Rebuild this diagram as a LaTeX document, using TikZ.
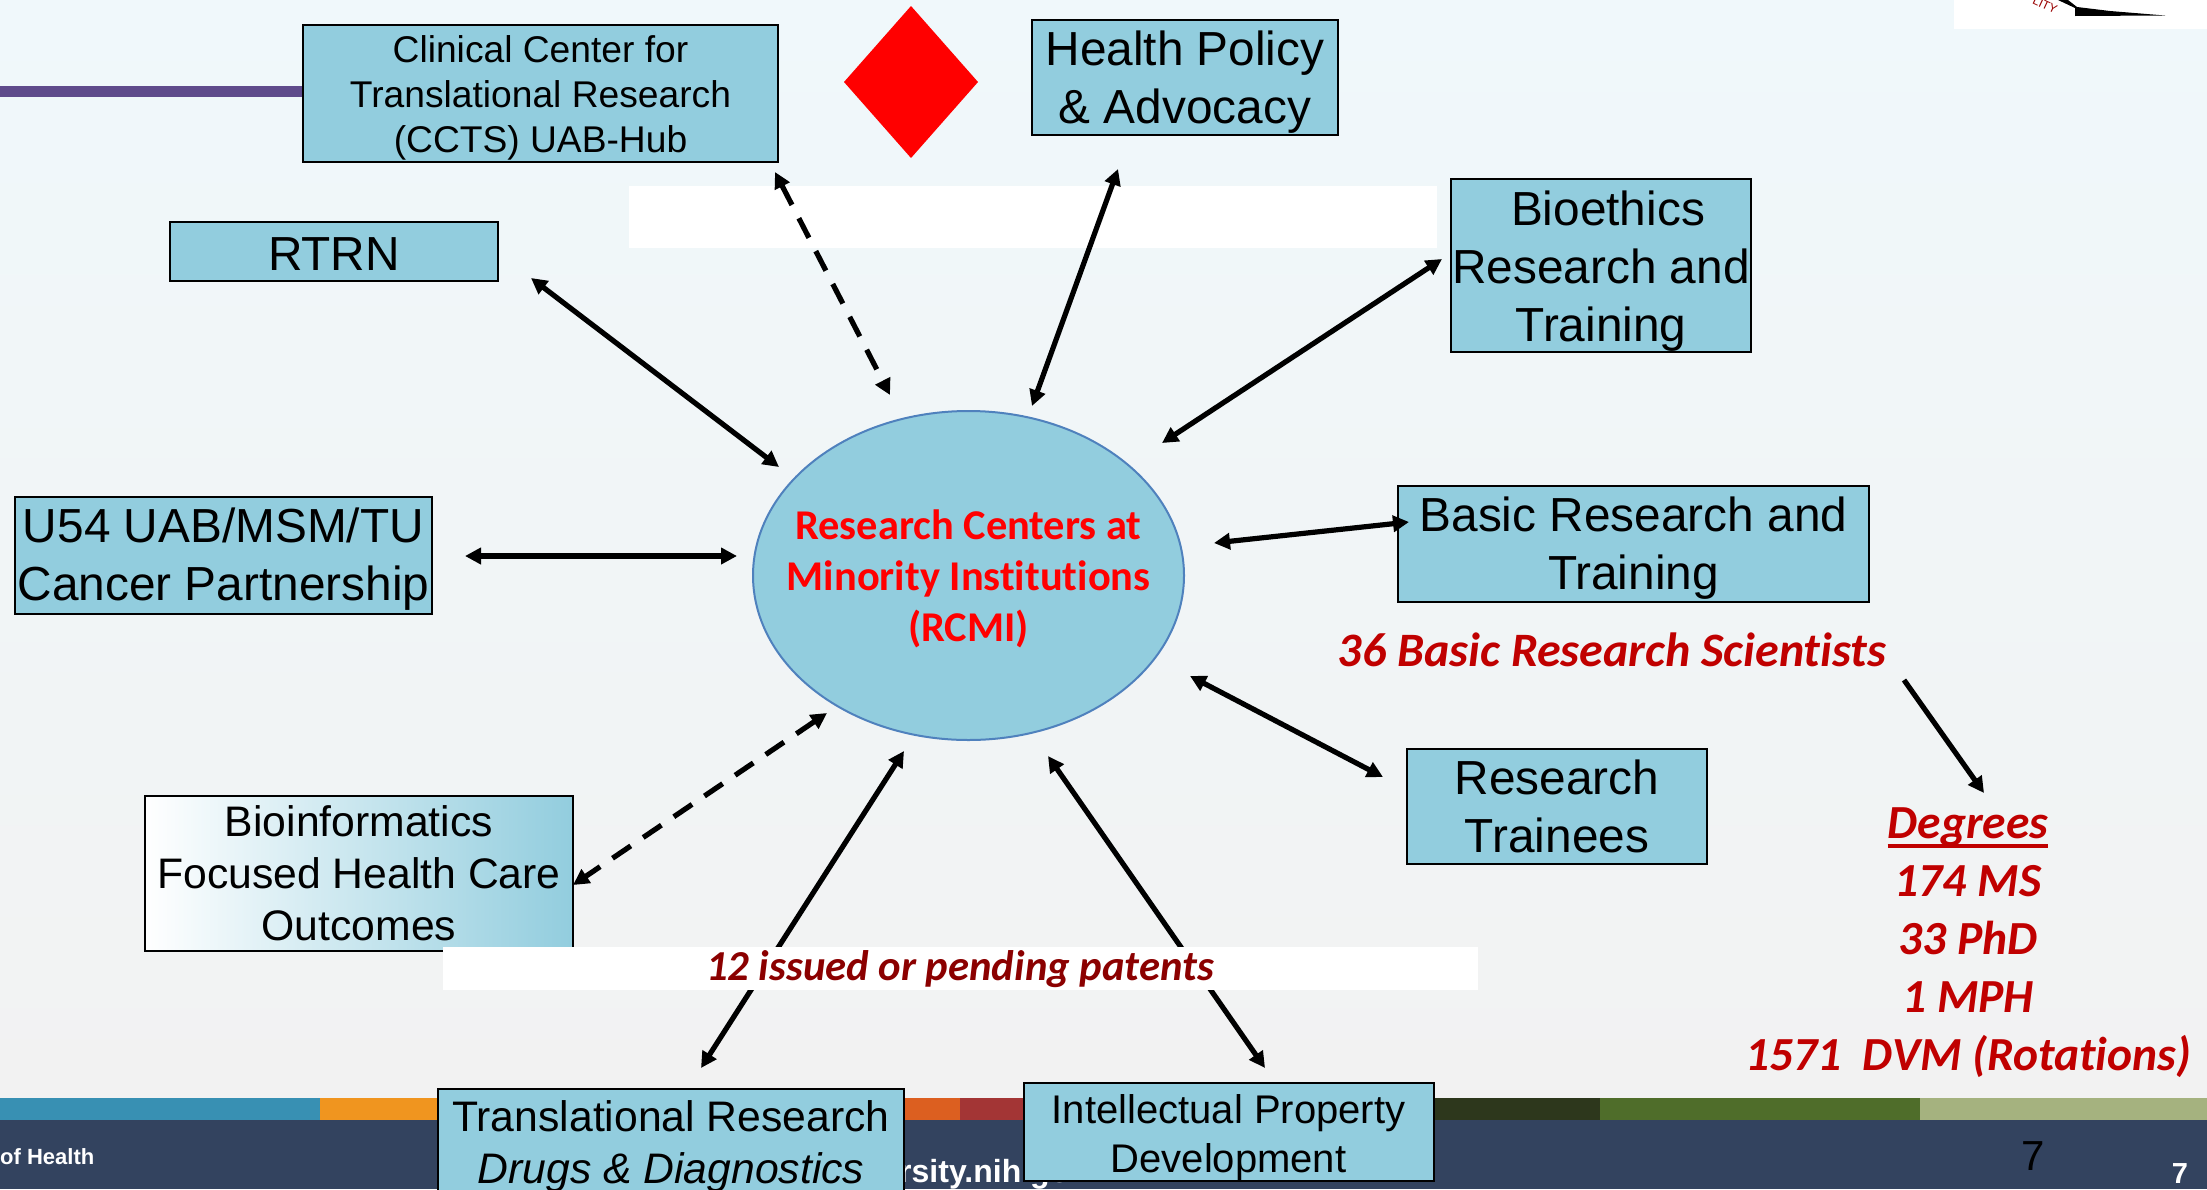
\documentclass[tikz,border=0pt]{standalone}
\usepackage{fontspec}
\setmainfont{Liberation Sans}
\newfontfamily\calfont[Ligatures=NoCommon]{Carlito}
\usetikzlibrary{arrows.meta,shapes.geometric}
\definecolor{boxblue}{HTML}{92CDDE}
\definecolor{ellline}{HTML}{4F81BD}
\definecolor{footer}{HTML}{33435F}
\definecolor{redtxt}{HTML}{C00000}
\definecolor{patent}{HTML}{8B0000}
\definecolor{bgtop}{HTML}{F0F8FB}
\definecolor{bgbot}{HTML}{F2F2F2}
\definecolor{purplebar}{HTML}{5F4B8B}
\definecolor{bandA}{HTML}{3890B3}
\definecolor{bandB}{HTML}{F0951F}
\definecolor{bandC}{HTML}{DC5F20}
\definecolor{bandD}{HTML}{A33535}
\definecolor{bandE}{HTML}{2D371C}
\definecolor{bandF}{HTML}{4F6D2A}
\definecolor{bandG}{HTML}{A5B27F}
\newcommand{\lift}[1]{\rule{0pt}{#1pt}}
\tikzset{
  box/.style={draw=black,line width=2pt,fill=boxblue,inner sep=0pt,align=center,text=black},
  arr/.style={line width=5.2pt,draw=black,{Triangle[length=16pt,width=16pt]}-{Triangle[length=16pt,width=16pt]}},
  dasharr/.style={arr,dash pattern=on 22pt off 15pt},
  onearr/.style={line width=5.2pt,draw=black,-{Triangle[length=16pt,width=16pt]}},
  degree/.style={font=\calfont\bfseries\itshape\fontsize{47.5}{54}\selectfont,text=redtxt,inner sep=0pt,anchor=base},
  wbar/.style={fill=white,draw=none},
  fs48/.style={font=\fontsize{47.8}{58}\selectfont},
  fs42/.style={font=\fontsize{42.7}{52}\selectfont},
  fs37/.style={font=\fontsize{37.2}{45}\selectfont},
  fs40/.style={font=\fontsize{40}{49}\selectfont}
}
\begin{document}
\begin{tikzpicture}[x=1pt,y=-1pt]
\useasboundingbox (0,0) rectangle (2207,1189);
\clip (0,0) rectangle (2207,1189);
% background
\shade[top color=bgtop,bottom color=bgbot] (0,0) rectangle (2207,1100);
\fill[footer] (0,1120) rectangle (2207,1189);
\fill[bandA] (0,1098) rectangle (320,1120);
\fill[bandB] (320,1098) rectangle (640,1120);
\fill[bandC] (640,1098) rectangle (960,1120);
\fill[bandD] (960,1098) rectangle (1280,1120);
\fill[bandE] (1280,1098) rectangle (1600,1120);
\fill[bandF] (1600,1098) rectangle (1920,1120);
\fill[bandG] (1920,1098) rectangle (2207,1120);
\node[anchor=base west,inner sep=0pt,text=white,font=\bfseries\fontsize{22}{26}\selectfont] (ofhealth) at (0,1164) {of Health};
\node[anchor=base west,inner sep=0pt,text=white,font=\bfseries\fontsize{32}{36}\selectfont] (site) at (899,1182) {rsity.nih.gov};
\node[anchor=base,inner sep=0pt,text=black,font=\fontsize{42}{48}\selectfont] (pageA) at (2033,1170) {7};
\node[anchor=base,inner sep=0pt,text=white,font=\bfseries\fontsize{29}{32}\selectfont] (pageB) at (2180,1183) {7};
% top right logo fragment
\fill[white] (1954,0) rectangle (2207,29);
\node[anchor=center,inner sep=0pt,rotate=-25,text=red!60!black,font=\fontsize{12}{13}\selectfont] (logotxt) at (2045,5) {LITY};
\fill[black] (2058,0) -- (2068,0) -- (2077,7) -- (2110,11) -- (2165,15.5) -- (2075,16) -- (2075,8) -- cycle;
% purple bar
\fill[purplebar] (0,86) rectangle (303,97);
% white masks
\fill[wbar] (629,186) rectangle (1437,248);
% diamond
\fill[red] (844,82) -- (911,6) -- (978,82) -- (911,158) -- cycle;
% boxes
\node[box,fs37,minimum width=475pt,minimum height=137pt] (ccts) at (540.5,93.5) {\lift{35.5}Clinical Center for\\Translational Research\\(CCTS) UAB-Hub};
\node[box,fs48,minimum width=328pt,minimum height=59pt] (rtrn) at (334,251.5) {\lift{38.5}RTRN};
\node[box,fs48,minimum width=417pt,minimum height=117pt] (u54) at (223.5,555.5) {\lift{41}U54 UAB/MSM/TU\\Cancer Partnership};
\node[box,fs48,minimum width=306pt,minimum height=115pt] (policy) at (1185,77.5) {\lift{44.8}Health Policy\\\& Advocacy};
\node[box,fs48,minimum width=300pt,minimum height=173pt] (bio) at (1601,265.5) {\lift{46}\hspace*{14pt}Bioethics\\Research and\\Training};
\node[box,fs48,minimum width=471pt,minimum height=116pt] (basic) at (1633.5,544) {\lift{42.8}Basic Research and\\Training};
\node[box,fs48,minimum width=300pt,minimum height=115pt] (trainees) at (1557,806.5) {Research\\Trainees};
\node[box,fs42,minimum width=428pt,minimum height=155pt,left color=white,right color=boxblue] (bioinf) at (359,873.5) {Bioinformatics\\Focused Health Care\\Outcomes};
\node[box,fs42,minimum width=466pt,minimum height=114pt] (trans) at (671,1146) {Translational Research\\\textit{Drugs \& Diagnostics}};
\node[box,fs40,minimum width=410pt,minimum height=98pt] (ip) at (1228.5,1132) {\lift{40}Intellectual Property\\Development};
% centre
\node[draw=ellline,line width=2pt,fill=boxblue,ellipse,minimum width=431pt,minimum height=329pt,inner sep=0pt] (rcmi) at (968.5,575.5) {};
\node[inner sep=0pt,align=center,text=red,font=\calfont\bfseries\fontsize{42.4}{51}\selectfont] (rcmitxt) at (968.5,579) {Research Centers at\\Minority Institutions\\(RCMI)};
% connector ends
\coordinate (ccA) at (775,172); \coordinate (ccB) at (890,395);
\coordinate (hpA) at (1118,169); \coordinate (hpB) at (1032,406);
\coordinate (beA) at (1442,259); \coordinate (beB) at (1162,443);
\coordinate (brA) at (1214,543); \coordinate (brB) at (1409,522);
\coordinate (trA) at (1190,676); \coordinate (trB) at (1383,777);
\coordinate (ipA) at (1048,756); \coordinate (ipB) at (1265,1068);
\coordinate (tlA) at (904,751); \coordinate (tlB) at (701,1068);
\coordinate (biA) at (827,713); \coordinate (biB) at (573,885);
\coordinate (usA) at (465,556); \coordinate (usB) at (737,556);
\coordinate (rtA) at (531,278); \coordinate (rtB) at (779,467);
\coordinate (scA) at (1904,680); \coordinate (scB) at (1984,793);
\draw[dasharr] (ccA) -- (ccB);
\draw[arr] (hpA) -- (hpB);
\draw[arr] (beA) -- (beB);
\draw[arr] (brA) -- (brB);
\draw[arr] (trA) -- (trB);
\draw[arr] (ipA) -- (ipB);
\draw[arr] (tlA) -- (tlB);
\draw[dasharr] (biA) -- (biB);
\draw[arr] (usA) -- (usB);
\draw[arr] (rtA) -- (rtB);
\draw[onearr] (scA) -- (scB);
% patents
\fill[wbar] (443,947) rectangle (1478,990);
\node[inner sep=0pt,text=patent,font=\calfont\bfseries\itshape\fontsize{42.7}{46}\selectfont] (patents) at (960,969) {12 issued or pending patents};
% red text
\node[inner sep=0pt,text=redtxt,font=\calfont\bfseries\itshape\fontsize{48}{52}\selectfont] (sci) at (1612,650) {36 Basic Research Scientists};
\node[degree] (dA) at (1968,838) {Degrees};
\draw[redtxt,line width=4pt] ([yshift=-8pt]dA.base west) -- ([yshift=-8pt]dA.base east);
\node[degree] (dB) at (1968,896) {174 MS};
\node[degree] (dC) at (1968,954) {33 PhD};
\node[degree] (dD) at (1968,1012) {1 MPH};
\node[degree] (dE) at (1968,1070) {1571\ \ DVM (Rotations)};
\end{tikzpicture}
\end{document}
